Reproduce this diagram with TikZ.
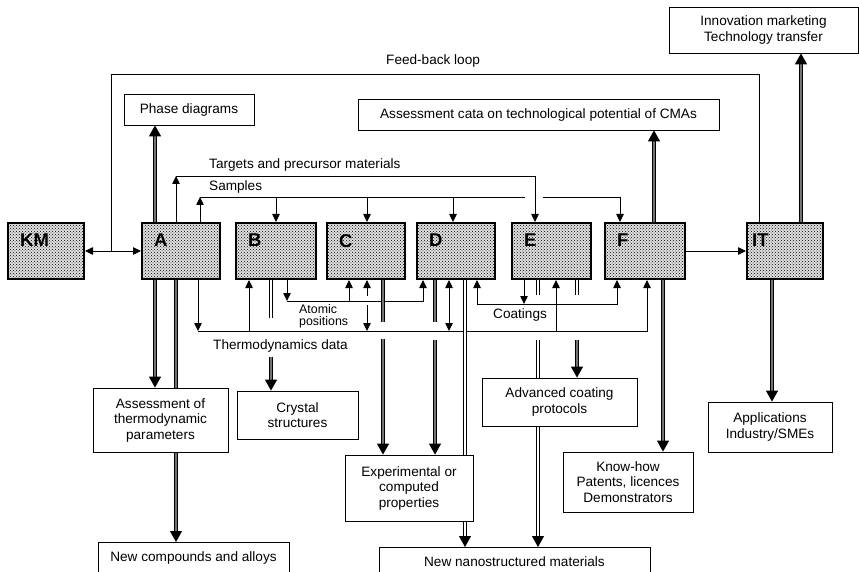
\documentclass[tikz,border=0pt]{standalone}
\usepackage{fontspec}
\setmainfont{Liberation Sans}
\usetikzlibrary{arrows.meta,patterns,backgrounds,calc}
\begin{document}
\begin{tikzpicture}[x=1pt,y=-1pt,
  font=\fontsize{13.6}{15.5}\selectfont,
  shbox/.style={draw, line width=2pt, preaction={fill=black!12}, pattern=crosshatch dots, pattern color=black, minimum height=56pt, inner sep=0pt},
  plainbox/.style={draw, line width=0.8pt, fill=white, align=center, inner sep=0pt},
  plainone/.style={draw, line width=0.8pt, fill=white, inner sep=0pt},
  letterlab/.style={font=\fontsize{18.5}{20}\selectfont\bfseries, inner sep=0pt, anchor=north west},
  sar/.style={line width=0.8pt, -{Triangle[length=8pt,width=7.5pt]}},
  sarr/.style={line width=0.8pt, {Triangle[length=8pt,width=7.5pt]}-{Triangle[length=8pt,width=7.5pt]}},
  sline/.style={line width=0.8pt},
  hd/.style={line width=1.1pt, double=black!55, double distance=1.4pt, -{Triangle[length=11pt,width=12pt]}},
  hdl/.style={line width=1.1pt, double=black!55, double distance=1.4pt},
  td/.style={line width=0.8pt, double=white, double distance=2.2pt, -{Triangle[length=11pt,width=12pt]}},
  tdl/.style={line width=0.8pt, double=white, double distance=2.2pt},
  lab/.style={inner sep=0pt, anchor=base west}
]
\useasboundingbox (0,0) rectangle (859,572);

% shaded process boxes
\node[shbox, minimum width=76pt] (KM) at (46,251) {};
\node[shbox, minimum width=78pt] (A) at (181,251) {};
\node[shbox, minimum width=80pt] (B) at (276,251) {};
\node[shbox, minimum width=78pt] (C) at (366,251) {};
\node[shbox, minimum width=78pt] (D) at (456,251) {};
\node[shbox, minimum width=79pt] (E) at (551.5,251) {};
\node[shbox, minimum width=80pt] (F) at (645,251) {};
\node[shbox, minimum width=76pt] (IT) at (785,251) {};

\node[letterlab] (KMl) at ($(KM.north west)+(13,12)$) {KM};
\node[letterlab] (Al) at ($(A.north west)+(13,12)$) {A};
\node[letterlab] (Bl) at ($(B.north west)+(13,12)$) {B};
\node[letterlab] (Cl) at ($(C.north west)+(13,12)$) {C};
\node[letterlab] (Dl) at ($(D.north west)+(13,12)$) {D};
\node[letterlab] (El) at ($(E.north west)+(13,12)$) {E};
\node[letterlab] (Fl) at ($(F.north west)+(13,12)$) {F};
\node[letterlab] (ITl) at ($(IT.north west)+(6,12)$) {IT};

% plain boxes
\node[plainbox, minimum width=130pt, minimum height=31pt] (Phase) at (189,109.5) {Phase diagrams};
\node[plainbox, minimum width=361pt, minimum height=31pt] (Cata) at (538.5,114.5) {Assessment cata on technological potential of CMAs};
\node[plainbox, minimum width=189pt, minimum height=46pt] (Innov) at (763.5,30) {Innovation marketing\\Technology transfer};
\node[plainbox, minimum width=135pt, minimum height=64pt] (Assess) at (160.5,420) {Assessment of\\thermodynamic\\parameters};
\node[plainbox, minimum width=121pt, minimum height=48pt] (Cryst) at (297.5,415) {Crystal\\structures};
\node[plainbox, minimum width=128pt, minimum height=66pt] (Exper) at (409,488) {Experimental or\\computed\\properties};
\node[plainbox, minimum width=155pt, minimum height=48pt] (Adv) at (559.5,402) {Advanced coating\\protocols};
\node[plainbox, minimum width=130pt, minimum height=60pt] (Know) at (628,482) {Know-how\\Patents, licences\\Demonstrators};
\node[plainbox, minimum width=124pt, minimum height=50pt] (Appl) at (770,427) {Applications\\Industry/SMEs};
\node[plainone, minimum width=191pt, minimum height=40pt, text depth=12pt, anchor=north] (NewC) at (193.5,542) {New compounds and alloys};
\node[plainone, minimum width=271pt, minimum height=40pt, text depth=12pt, anchor=north] (NewN) at (514.5,547) {New nanostructured materials};

% connector labels
\node[lab] (fbl) at (386,65) {Feed-back loop};
\node[lab] (tgl) at (209,169) {Targets and precursor materials};
\node[lab] (sml) at (209,191) {Samples};
\node[inner sep=0pt, anchor=north west, align=left, font=\fontsize{12.4}{12}\selectfont] (atl) at (299,304.5) {Atomic\\positions};
\node[lab] (thl) at (213,349) {Thermodynamics data};
\node[lab] (col) at (493,318) {Coatings};

\begin{pgfonlayer}{background}
% feed-back loop and horizontal links
\coordinate (fbA) at (111,251);
\draw[sline] (759,0 |- IT.north) -- (759,74) -- (111,74) -- (fbA);
\draw[sarr] (KM) -- (A);
\draw[sar] (F) -- (IT);

% upward outputs
\draw[hd] (155,0 |- A.north) -- (155,0 |- Phase.south);
\draw[hd] (654,0 |- F.north) -- (654,0 |- Cata.south);
\draw[hd] (801,0 |- IT.north) -- (801,0 |- Innov.south);

% targets and precursor materials
\coordinate (tg) at (176,176);
\draw[sar] (176,0 |- A.north) -- (tg);
\draw[sar] (tg) -- (535,176) -- (535,0 |- E.north);

% samples
\coordinate (sm) at (200,197);
\draw[sar] (200,0 |- A.north) -- (sm);
\draw[sline] (sm) -- (525,197);
\draw[sar] (543,197) -- (620,197) -- (620,0 |- F.north);
\draw[sar] (276,197) -- (276,0 |- B.north);
\draw[sar] (367,197) -- (367,0 |- C.north);
\draw[sar] (453,197) -- (453,0 |- D.north);

% A outputs
\draw[hd] (155,0 |- A.south) -- (155,0 |- Assess.north);
\draw[hd] (176,0 |- A.south) -- (176,0 |- NewC.north);
\coordinate (th) at (198,331);
\draw[sar] (198,0 |- A.south) -- (th);

% thermodynamics data line
\draw[sar] (th) -- (647,331) -- (647,0 |- F.south);
\draw[sar] (249,331) -- (249,0 |- B.south);
\draw[sar] (556,331) -- (556,0 |- E.south);
\draw[sarr] (449,0 |- D.south) -- (449,331);
\draw[sar] (367,296) -- (367,0 |- C.south);
\draw[sar] (367,305) -- (367,331);

% atomic positions
\coordinate (at) at (287,301);
\draw[sar] (287,0 |- B.south) -- (at);
\draw[sline] (at) -- (349,301);
\draw[sarr] (349,0 |- C.south) -- (349,301) -- (423,301) -- (423,0 |- D.south);

% coatings
\coordinate (co) at (524,304);
\draw[sar] (524,0 |- E.south) -- (co);
\draw[sarr] (477,0 |- D.south) -- (477,304) -- (617,304) -- (617,0 |- F.south);

% downward outputs
\draw[tdl] (271,0 |- B.south) -- (271,318);
\draw[hd] (271,357) -- (271,0 |- Cryst.north);
\draw[hdl] (383,0 |- C.south) -- (383,322);
\draw[hd] (383,339) -- (383,0 |- Exper.north);
\draw[hdl] (435,0 |- D.south) -- (435,322);
\draw[hd] (435,340) -- (435,0 |- Exper.north);
\draw[td] (465,0 |- D.south) -- (465,0 |- NewN.north);
\draw[tdl] (538,0 |- E.south) -- (538,295);
\draw[td] (538,340) -- (538,0 |- NewN.north);
\draw[tdl] (577,0 |- E.south) -- (577,295);
\draw[hd] (577,340) -- (577,0 |- Adv.north);
\draw[hd] (663,0 |- F.south) -- (663,0 |- Know.north);
\draw[hd] (772,0 |- IT.south) -- (772,0 |- Appl.north);
\end{pgfonlayer}
\end{tikzpicture}
\end{document}
